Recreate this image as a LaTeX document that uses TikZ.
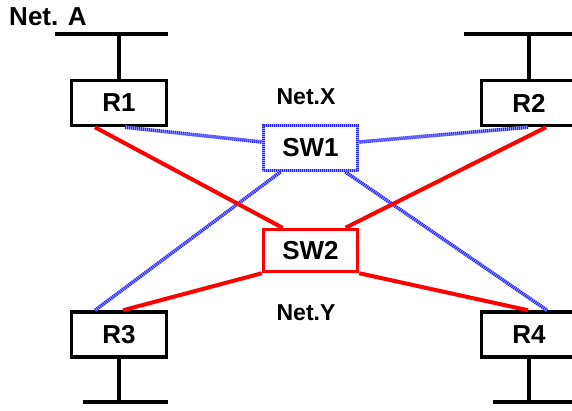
\documentclass[tikz,border=0pt]{standalone}
\usepackage{fontspec}
\setmainfont{Liberation Sans}
\definecolor{linkred}{RGB}{255,0,0}
\definecolor{linkblue}{RGB}{40,40,255}
\tikzset{
  router/.style={draw, line width=3.5pt, minimum width=95pt, minimum height=45pt, inner sep=0pt, font=\fontsize{26}{30}\selectfont\bfseries},
  swone/.style={draw=linkblue!45, line width=3pt, minimum width=94pt, minimum height=45pt, inner sep=0pt, font=\fontsize{26}{30}\selectfont\bfseries,
    postaction={draw=linkblue, dash pattern=on 1pt off 1pt}},
  swtwo/.style={draw=linkred, line width=3.5pt, minimum width=94pt, minimum height=42pt, inner sep=0pt, font=\fontsize{26}{30}\selectfont\bfseries},
  netlabel/.style={font=\fontsize{23}{28}\selectfont\bfseries},
  bus/.style={line width=3.5pt},
  redlink/.style={linkred, line width=4pt},
  bluelink/.style={draw=linkblue!45, line width=3.5pt, postaction={draw=linkblue, dash pattern=on 1pt off 1pt}},
}
\begin{document}
\begin{tikzpicture}[x=1pt, y=-1pt]
  \useasboundingbox (0,0) rectangle (572,410);

  % routers and switches
  \node[router] (r1) at (119,103) {R1};
  \node[router] (r2) at (529,103) {R2};
  \node[router] (r3) at (119,334.5) {R3};
  \node[router] (r4) at (529,334.5) {R4};
  \node[swone] (sw1) at (310.5,148) {SW1};
  \node[swtwo] (sw2) at (310.5,250.5) {SW2};

  \node[netlabel, font=\fontsize{26}{30}\selectfont\bfseries] (neta) at (48,17) {Net. A};
  \node[netlabel] (netx) at (306,97) {Net.X};
  \node[netlabel] (nety) at (306,313) {Net.Y};

  % buses
  \coordinate (a1) at (55,34);   \coordinate (a2) at (168,34);
  \coordinate (b1) at (464,34);  \coordinate (b2) at (580,34);
  \coordinate (c1) at (83,402);  \coordinate (c2) at (168,402);
  \coordinate (d1) at (493,402); \coordinate (d2) at (580,402);
  \draw[bus] (a1) -- (a2);
  \draw[bus] (b1) -- (b2);
  \draw[bus] (c1) -- (c2);
  \draw[bus] (d1) -- (d2);
  \draw[bus] (r1.north) -- (r1.north |- a1);
  \draw[bus] (r2.north) -- (r2.north |- b1);
  \draw[bus] (r3.south) -- (r3.south |- c1);
  \draw[bus] (r4.south) -- (r4.south |- d1);

  % links via SW1
  \draw[bluelink] ([xshift=6pt]r1.south) -- ([yshift=6pt]sw1.west);
  \draw[bluelink] ([xshift=-1pt]r2.south) -- ([yshift=6pt]sw1.east);
  \draw[bluelink] ([xshift=-30pt]sw1.south) -- ([xshift=-24pt]r3.north);
  \draw[bluelink] ([xshift=35pt]sw1.south) -- ([xshift=18pt]r4.north);

  % links via SW2
  \draw[redlink] ([xshift=-24pt]r1.south) -- ([xshift=-28pt]sw2.north);
  \draw[redlink] ([xshift=17pt]r2.south) -- ([xshift=35pt]sw2.north);
  \draw[redlink] (sw2.south west) -- ([xshift=4pt]r3.north);
  \draw[redlink] (sw2.south east) -- ([xshift=-1pt]r4.north);
\end{tikzpicture}
\end{document}
